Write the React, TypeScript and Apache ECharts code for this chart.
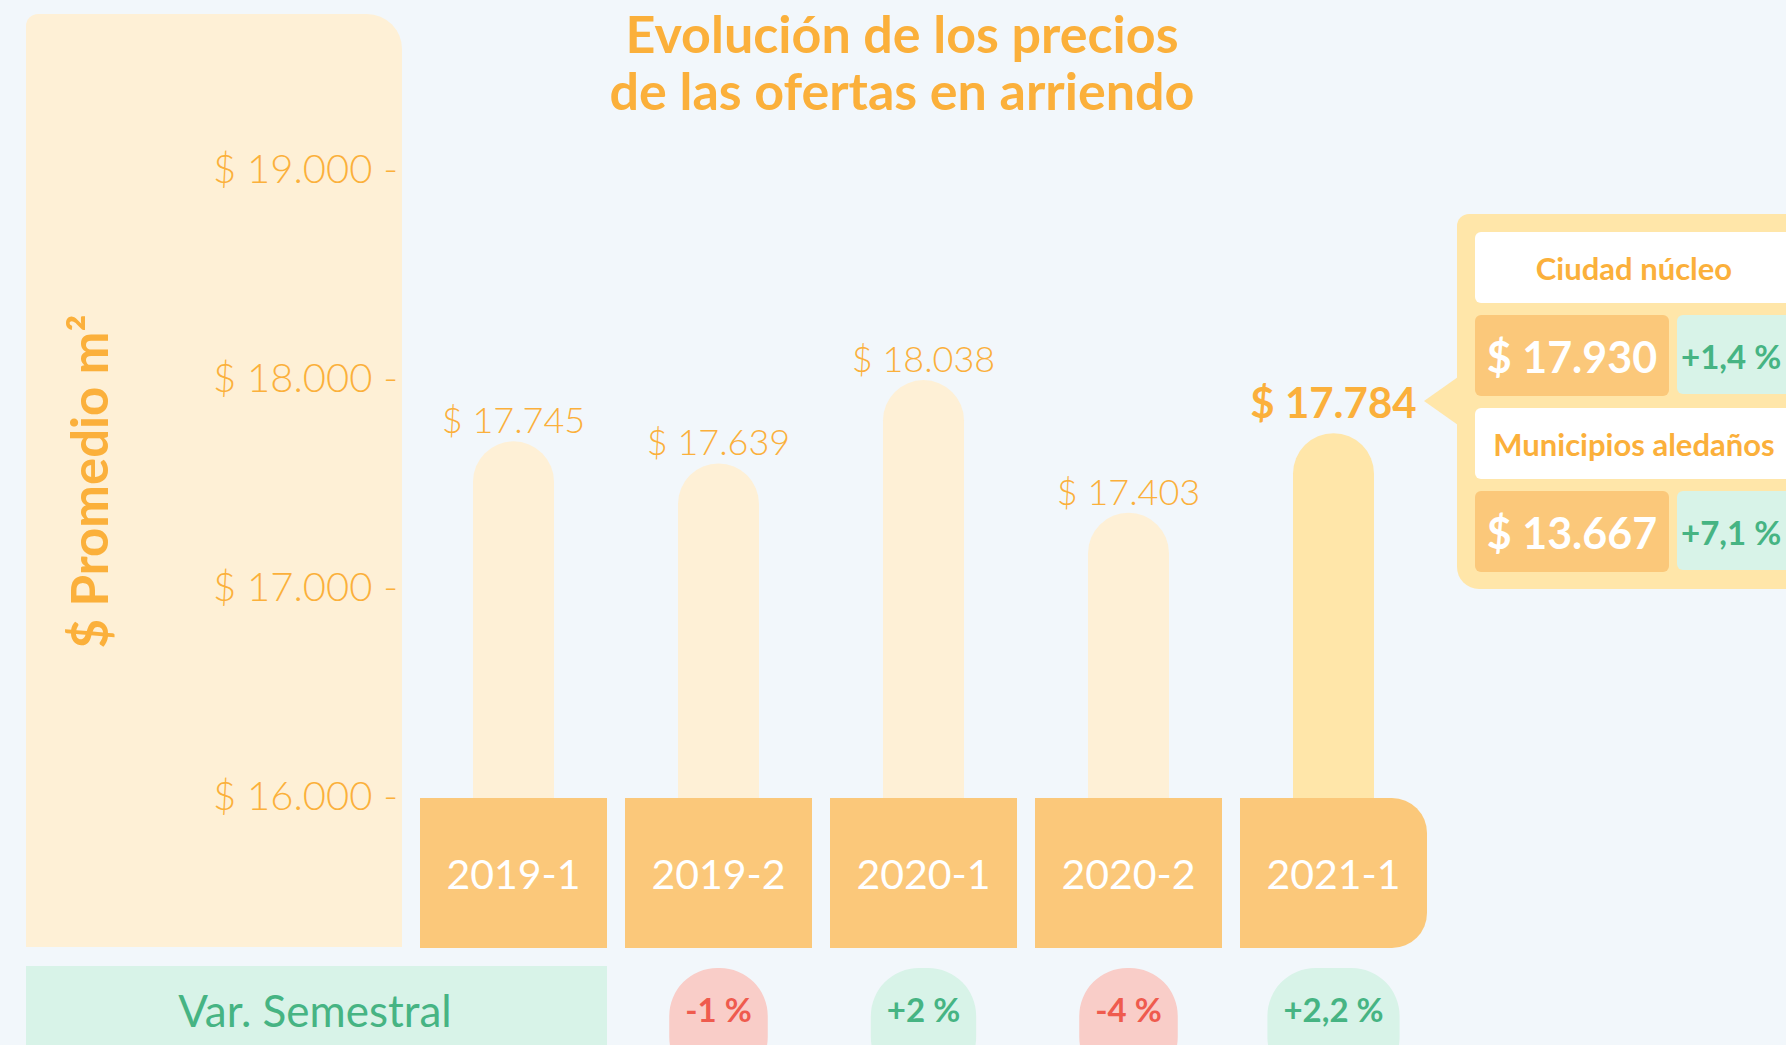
import React, { useEffect, useRef } from 'react';
import * as echarts from 'echarts';

// ---------- data ----------
const categories = ['2019-1', '2019-2', '2020-1', '2020-2', '2021-1'];
const prices = [17745, 17639, 18038, 17403, 17784];
const semesterVariation: (number | null)[] = [null, -1, 2, -4, 2.2];
const yMin = 16000;
const yMax = 19000;
const yInterval = 1000;
const calloutGroups = ['Ciudad núcleo', 'Municipios aledaños'];
const calloutPrices = [17930, 13667];
const calloutVariation = [1.4, 7.1];

// ---------- style ----------
const BG = '#F2F7FB';
const ORANGE = '#FBB03B';
const LIGHT = '#FEF0D6';
const HIGHLIGHT = '#FFE6A9';
const BOX = '#FBC87A';
const GREEN_BG = '#D8F3E8';
const GREEN = '#46B483';
const RED_BG = '#F9CDC8';
const RED = '#EF5B4E';
const FONT = 'Lato';

const fmtThousands = (v: number) => String(Math.round(v)).replace(/\B(?=(\d{3})+(?!\d))/g, '.');
const fmtPrice = (v: number) => '$ ' + fmtThousands(v);
const fmtPct = (v: number) => (v > 0 ? '+' : '') + String(v).replace('.', ',') + ' %';

function buildCallout() {
  const els: any[] = [];
  els.push({
    type: 'polygon',
    shape: { points: [[1458, 377], [1424, 401], [1458, 425]] },
    style: { fill: HIGHLIGHT },
  });
  els.push({
    type: 'rect',
    shape: { x: 1457, y: 214, width: 420, height: 375, r: [12, 0, 0, 22] },
    style: { fill: HIGHLIGHT },
  });
  calloutGroups.forEach((name, i) => {
    const y0 = 232 + i * 176;
    els.push({
      type: 'rect',
      shape: { x: 1475, y: y0, width: 420, height: 71, r: 6 },
      style: { fill: '#FFFFFF' },
    });
    els.push({
      type: 'text',
      x: 1634,
      y: y0 + 36,
      style: {
        text: name, fill: ORANGE, fontSize: 31, fontWeight: 'bold', fontFamily: FONT,
        align: 'center', verticalAlign: 'middle',
      },
    });
    els.push({
      type: 'rect',
      shape: { x: 1475, y: y0 + 83, width: 194, height: 81, r: 6 },
      style: { fill: BOX },
    });
    els.push({
      type: 'text',
      x: 1572,
      y: y0 + 124,
      style: {
        text: fmtPrice(calloutPrices[i]), fill: '#FFFFFF', fontSize: 43, fontWeight: 'bold', fontFamily: FONT,
        align: 'center', verticalAlign: 'middle',
      },
    });
    els.push({
      type: 'rect',
      shape: { x: 1677, y: y0 + 83, width: 200, height: 79, r: 6 },
      style: { fill: GREEN_BG },
    });
    els.push({
      type: 'text',
      x: 1681,
      y: y0 + 124,
      style: {
        text: fmtPct(calloutVariation[i]), fill: GREEN, fontSize: 33, fontWeight: 'bold', fontFamily: FONT,
        align: 'left', verticalAlign: 'middle',
      },
    });
  });
  return els;
}

export default function App() {
  const ref = useRef<HTMLDivElement>(null);
  useEffect(() => {
    if (!ref.current) return;
    const chart = echarts.init(ref.current, undefined, { renderer: 'svg' });
    const last = categories.length - 1;
    const variationData = semesterVariation
      .map((v, i) => (v == null ? null : [i, v]))
      .filter((d) => d != null);
    const option: any = {
      animation: false,
      backgroundColor: BG,
      textStyle: { fontFamily: FONT },
      title: {
        text: 'Evolución de los precios\nde las ofertas en arriendo',
        left: 902,
        top: 4,
        textAlign: 'center',
        padding: 0,
        textStyle: { color: ORANGE, fontSize: 52, fontWeight: 'bold', lineHeight: 57, fontFamily: FONT },
      },
      grid: [
        { left: 411, top: 179, width: 1025, height: 627 },
        { left: 411, top: 900, width: 1025, height: 60 },
      ],
      xAxis: [
        {
          type: 'category',
          gridIndex: 0,
          data: categories,
          z: 5,
          axisLine: { show: false, onZero: false },
          axisTick: { show: false },
          axisLabel: {
            interval: 0,
            margin: -8,
            formatter: (v: string, i: number) => (i === last ? `{last|${v}}` : `{box|${v}}`),
            rich: {
              box: {
                width: 187, height: 150, lineHeight: 150, backgroundColor: BOX, color: '#FFFFFF',
                fontSize: 41, fontWeight: 'normal', fontFamily: FONT, align: 'center',
              },
              last: {
                width: 187, height: 150, lineHeight: 150, backgroundColor: BOX, color: '#FFFFFF',
                fontSize: 41, fontWeight: 'normal', fontFamily: FONT, align: 'center', borderRadius: [0, 35, 35, 0],
              },
            },
          },
        },
        {
          type: 'category',
          gridIndex: 1,
          data: categories,
          show: false,
        },
      ],
      yAxis: [
        {
          type: 'value',
          gridIndex: 0,
          min: yMin,
          max: yMax,
          interval: yInterval,
          z: 5,
          splitLine: { show: false },
          axisLine: { show: false },
          axisTick: { show: false },
          axisLabel: {
            formatter: (v: number) => fmtPrice(v) + ' -',
            color: ORANGE,
            fontSize: 40,
            fontWeight: 300,
            fontFamily: FONT,
            margin: 13,
            verticalAlign: 'bottom',
            lineHeight: 22,
          },
          name: '$ Promedio m²',
          nameLocation: 'middle',
          nameRotate: 90,
          nameGap: 297,
          nameTextStyle: { color: ORANGE, fontSize: 51, fontWeight: 'bold', fontFamily: FONT, padding: [0, 0, 0, 22] },
        },
        { type: 'value', gridIndex: 1, min: 0, max: 1, show: false },
      ],
      series: [
        {
          type: 'bar',
          xAxisIndex: 0,
          yAxisIndex: 0,
          barWidth: 81,
          data: prices.map((v, i) => ({
            value: v,
            itemStyle: { color: i === last ? HIGHLIGHT : LIGHT },
            label: i === last ? { fontSize: 42, fontWeight: 'bold', distance: 10 } : undefined,
          })),
          itemStyle: { borderRadius: [40.5, 40.5, 0, 0] },
          label: {
            show: true,
            position: 'top',
            distance: 4,
            formatter: (p: any) => fmtPrice(p.value),
            color: ORANGE,
            fontSize: 36,
            fontWeight: 300,
            fontFamily: FONT,
          },
        },
        {
          type: 'custom',
          name: 'Var. Semestral',
          xAxisIndex: 1,
          yAxisIndex: 1,
          clip: false,
          data: variationData,
          renderItem: (_params: any, api: any) => {
            const i = api.value(0);
            const d = api.value(1);
            const pt = api.coord([i, 0]);
            const neg = d < 0;
            return {
              type: 'text',
              x: pt[0],
              y: pt[1] + 8,
              style: {
                text: fmtPct(d),
                fill: neg ? RED : GREEN,
                fontSize: 33,
                fontWeight: 'bold',
                fontFamily: FONT,
                lineHeight: 33,
                align: 'center',
                verticalAlign: 'top',
                backgroundColor: neg ? RED_BG : GREEN_BG,
                padding: [24, 16, 60, 16],
                borderRadius: 48,
              },
            };
          },
        },
      ],
      graphic: [
        {
          type: 'rect',
          z: -10,
          shape: { x: 26, y: 14, width: 376, height: 933, r: [12, 35, 0, 0] },
          style: { fill: LIGHT },
        },
        {
          type: 'rect',
          z: -10,
          shape: { x: 26, y: 966, width: 581, height: 130, r: [0, 0, 20, 20] },
          style: { fill: GREEN_BG },
        },
        {
          type: 'text',
          x: 315,
          y: 1010,
          style: {
            text: 'Var. Semestral', fill: GREEN, fontSize: 44, fontFamily: FONT,
            align: 'center', verticalAlign: 'middle',
          },
        },
        ...buildCallout(),
      ],
    };
    chart.setOption(option);
    return () => chart.dispose();
  }, []);
  return (
    <div
      ref={ref}
      style={{ position: 'fixed', left: 0, top: 0, width: 1786, height: 1045 }}
    />
  );
}
